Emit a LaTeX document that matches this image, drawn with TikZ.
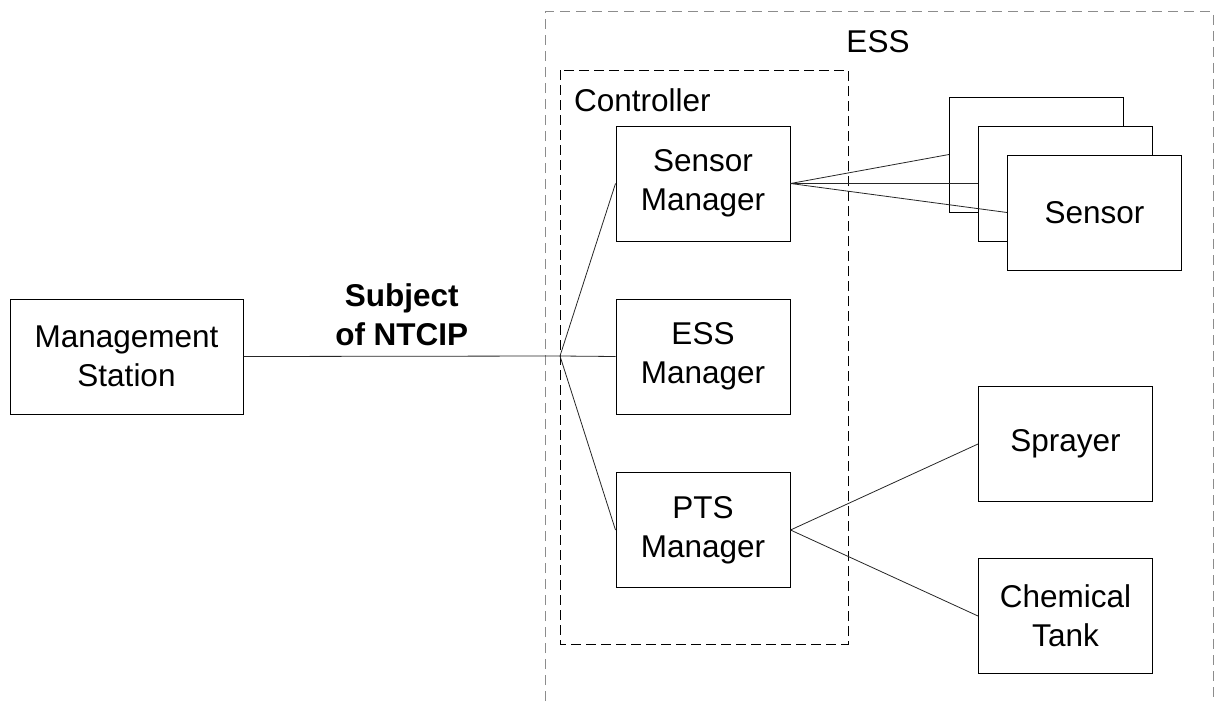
\documentclass[tikz,border=0pt]{standalone}
\usepackage{fontspec}
\setmainfont{Liberation Sans}
\begin{document}
\begin{tikzpicture}[x=1pt,y=-1pt,
  box/.style={draw=black,line width=1pt,fill=white,minimum width=174pt,minimum height=115pt,inner sep=0pt,align=center,font=\fontsize{31.5}{39}\selectfont},
  conn/.style={draw=black!85,line width=0.8pt},
  lbl/.style={font=\fontsize{31.5}{39}\selectfont,inner sep=0pt,align=center}]
\useasboundingbox (0,0) rectangle (1217,701);
% ESS boundary (open at bottom)
\draw[black!45,line width=1pt,dash pattern=on 10pt off 6pt] (545,701) -- (545,12) -- (1213,12) -- (1213,701);
\node[lbl] (ess) at (878,42) {ESS};
% Controller
\draw[black,line width=1pt,dash pattern=on 10pt off 5pt] (560,70) rectangle (848,644);
\node[lbl,anchor=west] (ctrl) at (574,100) {Controller};
% boxes
\node[box,minimum width=233pt] (ms) at (126.5,356.5) {Management\\Station};
\node[box] (sm) at (703,183.5) {Sensor\\Manager};
\node[box] (essm) at (703,356.5) {ESS\\Manager};
\node[box] (pts) at (703,530) {PTS\\Manager};
\node[box] (s1) at (1036.5,154.5) {};
\node[box] (s2) at (1065.5,183.5) {};
\node[box] (s3) at (1094.5,212.5) {Sensor};
\node[box] (spr) at (1065.5,444) {Sprayer};
\node[box] (tank) at (1065.5,616) {Chemical\\Tank};
% junction
\coordinate (j) at (560,356);
\draw[conn] (ms.east) -- node[lbl,above=10pt,font=\bfseries\fontsize{31.5}{39}\selectfont] (subj) {Subject\\of NTCIP} (j);
\draw[conn] (j) -- (sm.west);
\draw[conn] (j) -- (essm.west);
\draw[conn] (j) -- (pts.west);
\draw[conn] (sm.east) -- (s1.west);
\draw[conn] (sm.east) -- (s2.west);
\draw[conn] (sm.east) -- (s3.west);
\draw[conn] (pts.east) -- (spr.west);
\draw[conn] (pts.east) -- (tank.west);
\end{tikzpicture}
\end{document}
